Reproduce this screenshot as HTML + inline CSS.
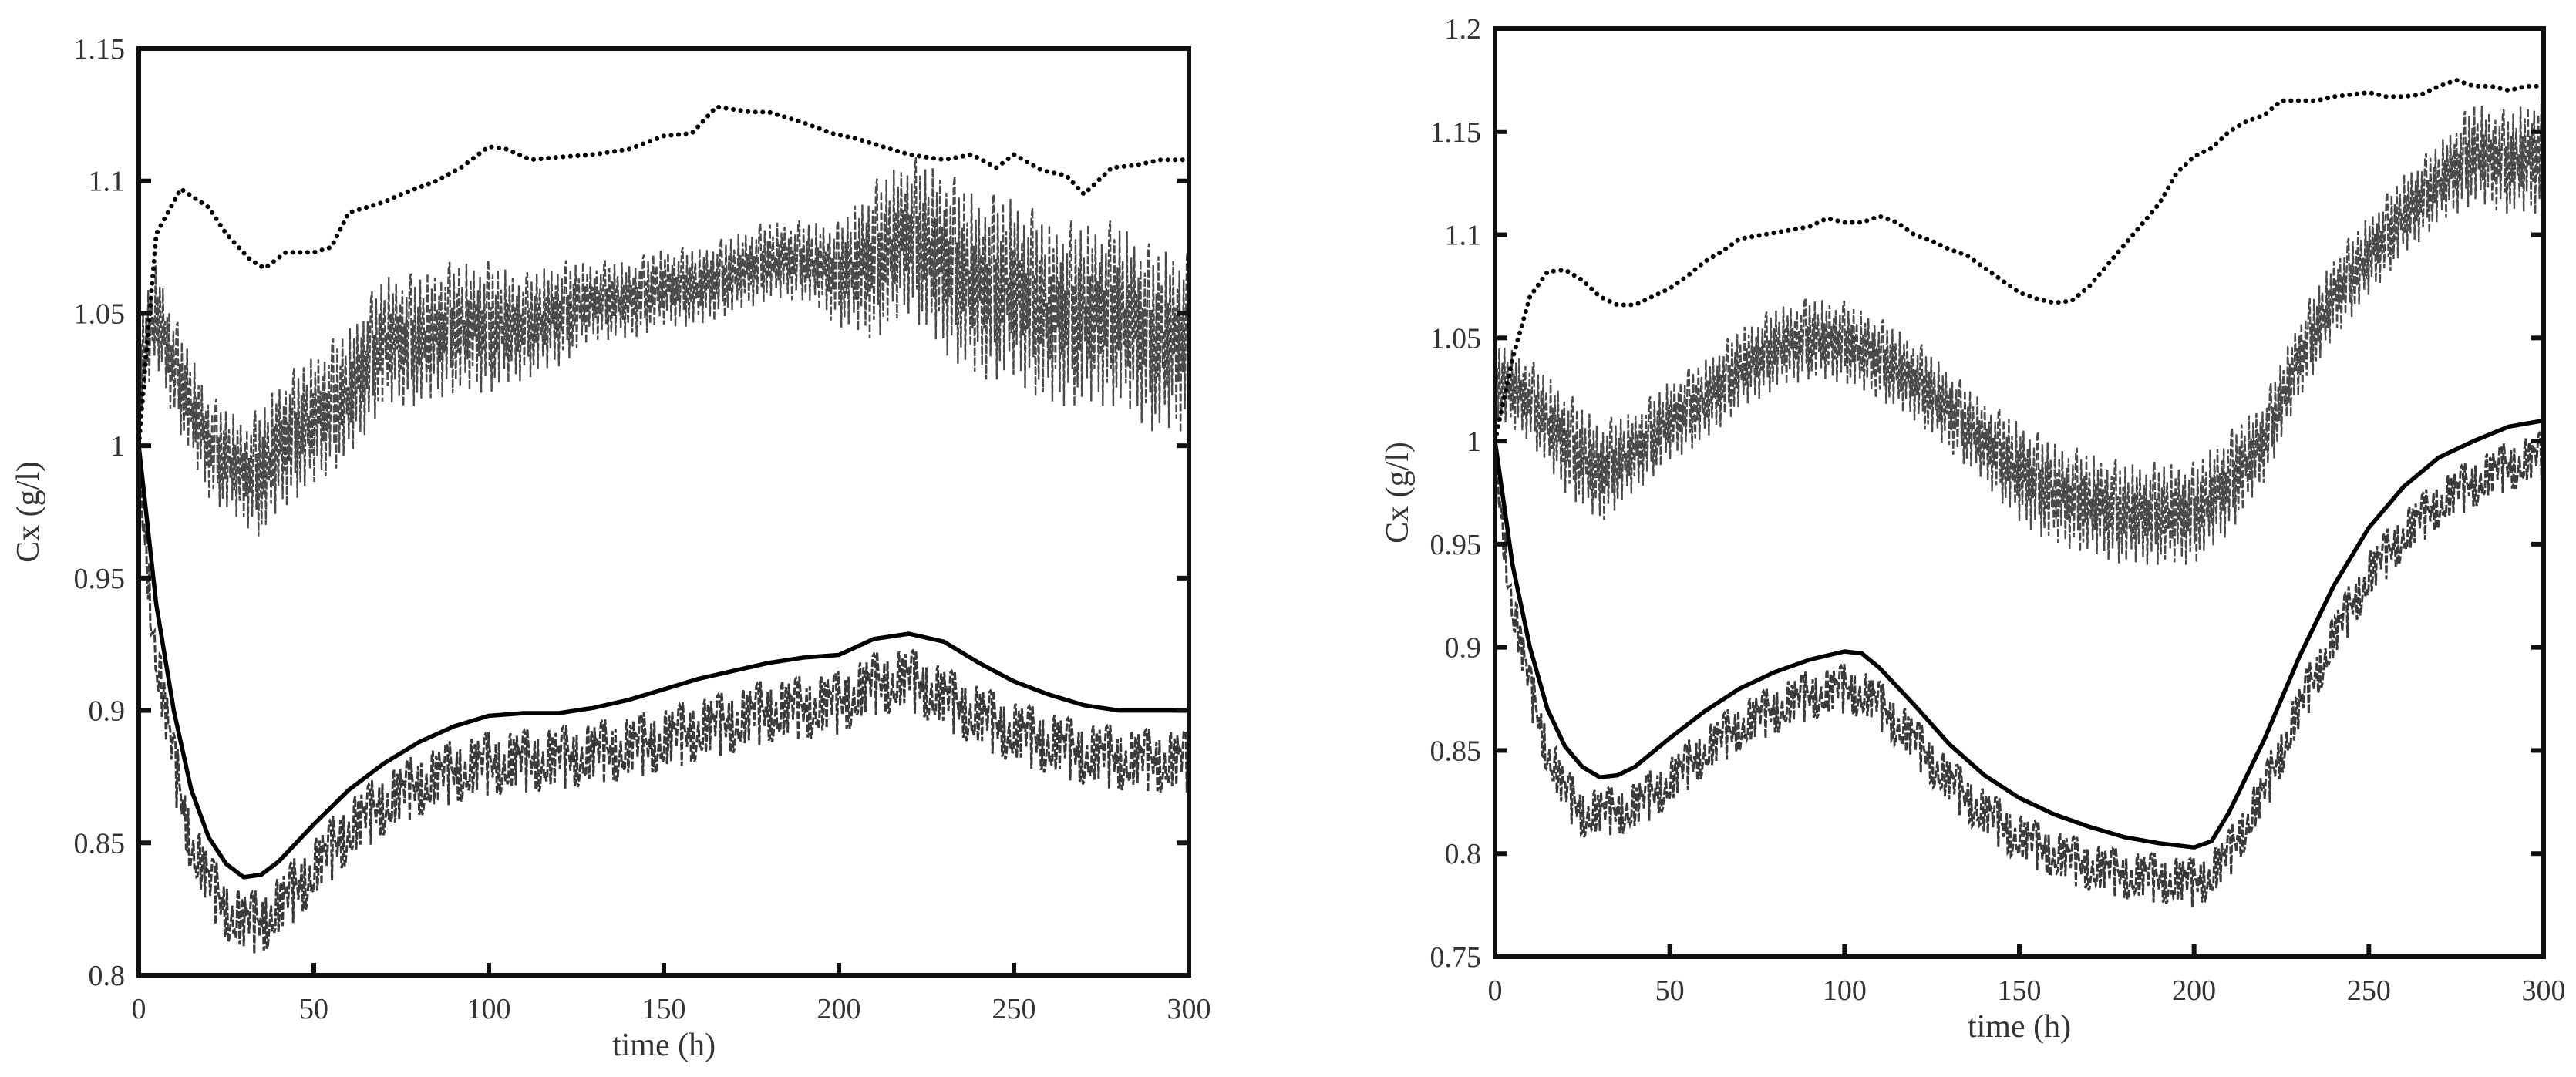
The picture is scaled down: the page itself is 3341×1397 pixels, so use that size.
<!DOCTYPE html>
<html><head><meta charset="utf-8">
<style>
html,body{margin:0;padding:0;background:#fff;}
svg{display:block;font-family:"Liberation Serif",serif;}
</style></head>
<body>
<svg id="fig" width="3341" height="1397" viewBox="0 0 3341 1397"></svg>
<script>
// ---- Left chart data ----
const L_dotT=[0,5,12,20,25,32,36,42,50,55,60,70,75,85,92,100,105,112,120,130,140,150,158,165,175,180,190,198,205,215,220,230,238,245,250,258,265,270,278,285,292,300];
const L_dotV=[1.0,1.08,1.097,1.09,1.08,1.07,1.067,1.073,1.073,1.075,1.088,1.092,1.095,1.1,1.105,1.113,1.112,1.108,1.109,1.11,1.112,1.117,1.118,1.128,1.126,1.126,1.122,1.118,1.116,1.112,1.11,1.108,1.11,1.105,1.11,1.104,1.102,1.095,1.105,1.106,1.108,1.108];
const L_upT=[0,5,10,15,20,25,30,35,40,45,50,55,60,70,80,90,100,110,120,130,140,150,160,170,180,190,200,210,220,230,240,250,260,270,280,290,300];
const L_upC=[1.03,1.05,1.03,1.015,1.0,0.995,0.99,0.99,1.0,1.005,1.01,1.015,1.02,1.04,1.04,1.045,1.045,1.045,1.05,1.055,1.055,1.06,1.06,1.065,1.07,1.07,1.065,1.07,1.08,1.07,1.06,1.06,1.05,1.05,1.05,1.04,1.04];
const L_upW=[0.02,0.02,0.02,0.02,0.02,0.02,0.02,0.025,0.025,0.025,0.025,0.025,0.025,0.025,0.025,0.025,0.025,0.02,0.02,0.015,0.015,0.015,0.015,0.015,0.015,0.015,0.02,0.03,0.03,0.035,0.035,0.035,0.035,0.035,0.035,0.035,0.035];
const L_solT=[0,5,10,15,20,25,30,35,40,50,60,70,80,90,100,110,120,130,140,150,160,170,180,190,200,210,220,230,240,250,260,270,280,290,300];
const L_solV=[1.0,0.94,0.9,0.87,0.852,0.842,0.837,0.838,0.843,0.857,0.87,0.88,0.888,0.894,0.898,0.899,0.899,0.901,0.904,0.908,0.912,0.915,0.918,0.92,0.921,0.927,0.929,0.926,0.918,0.911,0.906,0.902,0.9,0.9,0.9];
const L_loC=[0.99,0.92,0.88,0.85,0.835,0.825,0.82,0.82,0.826,0.84,0.855,0.865,0.872,0.877,0.88,0.881,0.882,0.884,0.886,0.889,0.893,0.896,0.9,0.901,0.903,0.91,0.912,0.905,0.898,0.892,0.888,0.884,0.882,0.881,0.881];
const L_yTicks=[0.8,0.85,0.9,0.95,1,1.05,1.1,1.15];
const L_yLabels=["0.8","0.85","0.9","0.95","1","1.05","1.1","1.15"];
// ---- Right chart data ----
const R_dotT=[0,5,10,15,20,25,30,35,40,45,50,55,60,65,70,80,90,95,100,105,110,115,120,125,130,135,140,145,150,155,160,165,170,175,180,185,190,195,200,205,210,215,220,225,230,235,240,245,250,255,260,265,270,275,280,285,290,295,300];
const R_dotV=[1.0,1.04,1.07,1.082,1.083,1.078,1.07,1.066,1.066,1.07,1.074,1.08,1.087,1.092,1.098,1.101,1.104,1.108,1.106,1.106,1.109,1.106,1.1,1.097,1.093,1.09,1.084,1.078,1.072,1.069,1.067,1.068,1.075,1.085,1.095,1.105,1.115,1.13,1.138,1.142,1.15,1.155,1.158,1.165,1.165,1.165,1.167,1.168,1.169,1.167,1.167,1.168,1.172,1.175,1.172,1.172,1.17,1.172,1.172];
const R_upT=[0,10,20,30,40,50,60,70,80,90,100,110,120,130,140,150,160,170,180,190,200,210,220,230,240,250,260,270,280,290,300];
const R_upC=[1.03,1.02,1.0,0.985,0.995,1.01,1.02,1.035,1.045,1.05,1.048,1.04,1.03,1.015,1.0,0.985,0.975,0.97,0.965,0.965,0.965,0.98,1.0,1.04,1.07,1.09,1.11,1.125,1.14,1.135,1.14];
const R_upW=[0.02,0.02,0.025,0.025,0.02,0.02,0.02,0.02,0.02,0.02,0.02,0.02,0.02,0.02,0.02,0.025,0.025,0.025,0.025,0.025,0.025,0.025,0.02,0.02,0.02,0.02,0.02,0.02,0.025,0.025,0.03];
const R_solT=[0,5,10,15,20,25,30,35,40,50,60,70,80,90,100,105,110,120,130,140,150,160,170,180,190,200,205,210,220,230,240,250,260,270,280,290,300];
const R_solV=[1.0,0.94,0.9,0.87,0.852,0.842,0.837,0.838,0.842,0.856,0.869,0.88,0.888,0.894,0.898,0.897,0.89,0.872,0.853,0.838,0.827,0.819,0.813,0.808,0.805,0.803,0.806,0.82,0.855,0.895,0.93,0.958,0.978,0.992,1.0,1.007,1.01];
const R_loC=[0.99,0.92,0.88,0.85,0.83,0.82,0.82,0.821,0.823,0.835,0.85,0.862,0.87,0.877,0.88,0.878,0.872,0.855,0.835,0.82,0.808,0.8,0.794,0.79,0.788,0.786,0.79,0.8,0.83,0.87,0.905,0.935,0.955,0.97,0.98,0.988,0.993];
const R_yTicks=[0.75,0.8,0.85,0.9,0.95,1,1.05,1.1,1.15,1.2];
const R_yLabels=["0.75","0.8","0.85","0.9","0.95","1","1.05","1.1","1.15","1.2"];
const xTicks=[0,50,100,150,200,250,300];
const xLabels=["0","50","100","150","200","250","300"];
const jitter=[1,-0.6,0.3,-1,0.8,-0.2,-0.8,0.5,-0.4,0.9,-0.9,0.2,0.6,-0.3,0.1,-0.7,0.95,-0.5,0.4,-0.95,0.7,0.0,-0.6,0.85,-0.15,0.35,-0.85,0.55,-0.45,0.75,-1,0.25,-0.35,0.65,-0.75,0.15,0.9];

const NS="http://www.w3.org/2000/svg";
const svg=document.getElementById('fig');
function mk(tag,attrs,parent){const e=document.createElementNS(NS,tag);for(const k in attrs)e.setAttribute(k,attrs[k]);(parent||svg).appendChild(e);return e;}
function interp(ts,vs,t){for(let i=0;i<ts.length-1;i++){if(t<=ts[i+1]){const f=(t-ts[i])/(ts[i+1]-ts[i]);return vs[i]+f*(vs[i+1]-vs[i]);}}return vs[vs.length-1];}

function drawChart(p){
  const g=mk('g',{});
  
  
  const X=t=>p.x0+(t-0)/300*(p.x1-p.x0);
  const Y=v=>p.y1-(v-p.ymin)/(p.ymax-p.ymin)*(p.y1-p.y0);
  const clip=mk('clipPath',{id:p.name+'-clip'},g);
  mk('rect',{x:p.x0,y:p.y0,width:p.x1-p.x0,height:p.y1-p.y0},clip);
  const data=mk('g',{'clip-path':'url(#'+p.name+'-clip)'},g);
  let d='';
  for(let t=0,k=0;t<=300;t+=0.3,k++){const c=interp(p.upT,p.upC,t),w=interp(p.upT,p.upW,t);d+=(k?'L':'M')+X(t).toFixed(1)+' '+Y(c+w*jitter[k%jitter.length]).toFixed(1);}
  const nu=mk('path',{d:d,fill:'none',stroke:'#4a4a4a','stroke-width':2.4,'stroke-dasharray':'10 3'},data);
  
  
  d='';
  for(let t=0,k=0;t<=300;t+=0.3,k++){const c=interp(p.solT,p.loC,t);d+=(k?'L':'M')+X(t).toFixed(1)+' '+Y(c+0.012*jitter[(k*7)%jitter.length]).toFixed(1);}
  const nl=mk('path',{d:d,fill:'none',stroke:'#3a3a3a','stroke-width':3,'stroke-dasharray':'10 3'},data);
  
  
  d=p.solT.map((t,i)=>(i?'L':'M')+X(t).toFixed(1)+' '+Y(p.solV[i]).toFixed(1)).join('');
  const sl=mk('path',{d:d,fill:'none',stroke:'#000','stroke-width':5.5,'stroke-linejoin':'round'},data);
  
  
  d=p.dotT.map((t,i)=>(i?'L':'M')+X(t).toFixed(1)+' '+Y(p.dotV[i]).toFixed(1)).join('');
  const dl=mk('path',{d:d,fill:'none',stroke:'#000','stroke-width':6,'stroke-linecap':'round','stroke-dasharray':'0.1 9.5'},data);
  
  
  const fr=mk('rect',{x:p.x0,y:p.y0,width:p.x1-p.x0,height:p.y1-p.y0,fill:'none',stroke:'#111','stroke-width':6},g);
  
  
  p.yTicks.forEach((v,i)=>{
    const y=Y(v);
    mk('line',{x1:p.x0,x2:p.x0+16,y1:y,y2:y,stroke:'#111','stroke-width':6},g);
    mk('line',{x1:p.x1,x2:p.x1-16,y1:y,y2:y,stroke:'#111','stroke-width':6},g);
    const tx=mk('text',{x:p.x0-18,y:y+13,'text-anchor':'end','font-size':38,fill:'#333'},g);
    tx.textContent=p.yLabels[i];
    
    
  });
  xTicks.forEach((t,i)=>{
    const x=X(t);
    mk('line',{x1:x,x2:x,y1:p.y1,y2:p.y1-16,stroke:'#111','stroke-width':6},g);
    const tx=mk('text',{x:x,y:p.y1+56,'text-anchor':'middle','font-size':38,fill:'#333'},g);
    tx.textContent=xLabels[i];
    
    
  });
  const xt=mk('text',{x:(p.x0+p.x1)/2,y:p.y1+104,'text-anchor':'middle','font-size':42,fill:'#333'},g);
  xt.textContent='time (h)';
  
  
  const yc=(p.y0+p.y1)/2;
  const yt=mk('text',{x:p.ytx,y:yc,'text-anchor':'middle','font-size':42,fill:'#333',transform:'rotate(-90 '+p.ytx+' '+yc+')'},g);
  yt.textContent='Cx (g/l)';
  
  
}
drawChart({name:'left-chart',x0:180,x1:1542,y0:63,y1:1265,ymin:0.8,ymax:1.15,yTicks:L_yTicks,yLabels:L_yLabels,ytx:50,
  dotT:L_dotT,dotV:L_dotV,upT:L_upT,upC:L_upC,upW:L_upW,solT:L_solT,solV:L_solV,loC:L_loC});
drawChart({name:'right-chart',x0:1939,x1:3299,y0:37,y1:1241,ymin:0.75,ymax:1.2,yTicks:R_yTicks,yLabels:R_yLabels,ytx:1826,
  dotT:R_dotT,dotV:R_dotV,upT:R_upT,upC:R_upC,upW:R_upW,solT:R_solT,solV:R_solV,loC:R_loC});
</script>
</body></html>
